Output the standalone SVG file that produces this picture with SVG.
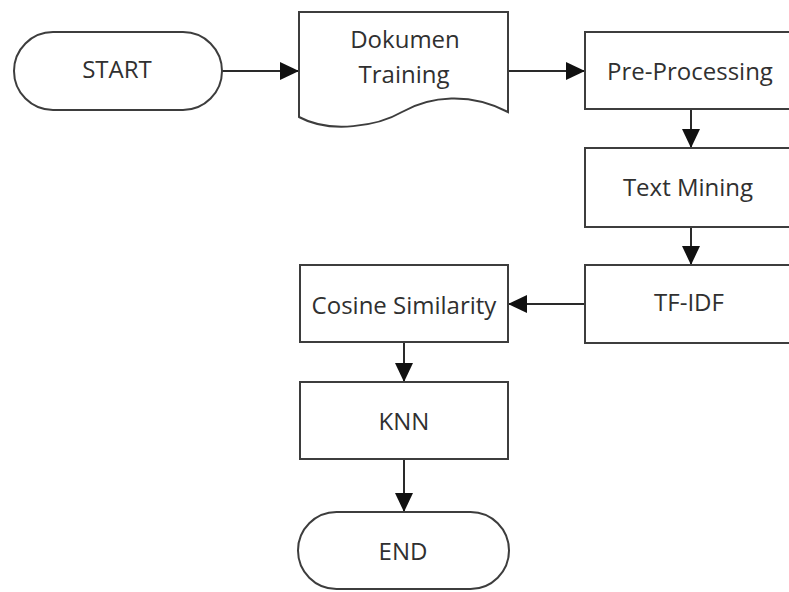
<svg xmlns="http://www.w3.org/2000/svg" width="789" height="592" viewBox="0 0 789 592">
  <style>
    .shape { fill: #ffffff; stroke: #3d3d3d; stroke-width: 2; }
    .label { font-family: "Open Sans", "Liberation Sans", sans-serif; font-size: 24px; fill: #303030; text-anchor: middle; }
    .conn { stroke: #2a2a2a; stroke-width: 2; fill: none; marker-end: url(#arrow); }
  </style>
  <defs>
    <marker id="arrow" markerUnits="userSpaceOnUse" markerWidth="20" markerHeight="18" refX="19" refY="9" orient="auto">
      <path d="M0,0 L19,9 L0,18 Z" fill="#111111"/>
    </marker>
  </defs>
  <rect width="789" height="592" fill="#ffffff"/>

  <g id="connectors">
    <line class="conn" x1="222" y1="71" x2="299" y2="71"/>
    <line class="conn" x1="508" y1="71" x2="585" y2="71"/>
    <line class="conn" x1="691" y1="109" x2="691" y2="148"/>
    <line class="conn" x1="691" y1="227" x2="691" y2="265"/>
    <line class="conn" x1="585" y1="304" x2="508" y2="304"/>
    <line class="conn" x1="404" y1="342" x2="404" y2="382"/>
    <line class="conn" x1="404" y1="459" x2="404" y2="512"/>
  </g>

  <g id="start">
    <rect class="shape" x="14" y="32" width="208" height="78" rx="39" ry="39"/>
    <text class="label" x="117" y="78">START</text>
  </g>

  <g id="dokumen-training">
    <path class="shape" d="M299,12 H508 V112 C470,92 430,96 402,112 C378,126 330,134 299,117 Z"/>
    <text class="label" x="405" y="48">Dokumen</text>
    <text class="label" x="404" y="83">Training</text>
  </g>

  <g id="pre-processing">
    <rect class="shape" x="585" y="32" width="220" height="77"/>
    <text class="label" x="690" y="80">Pre-Processing</text>
  </g>

  <g id="text-mining">
    <rect class="shape" x="585" y="148" width="220" height="79"/>
    <text class="label" x="688" y="196">Text Mining</text>
  </g>

  <g id="tf-idf">
    <rect class="shape" x="585" y="265" width="220" height="78"/>
    <text class="label" x="689" y="311">TF-IDF</text>
  </g>

  <g id="cosine-similarity">
    <rect class="shape" x="300" y="265" width="208" height="77"/>
    <text class="label" x="404" y="314">Cosine Similarity</text>
  </g>

  <g id="knn">
    <rect class="shape" x="300" y="382" width="208" height="77"/>
    <text class="label" x="404" y="430">KNN</text>
  </g>

  <g id="end">
    <rect class="shape" x="298" y="512" width="211" height="77" rx="38.5" ry="38.5"/>
    <text class="label" x="403" y="560">END</text>
  </g>
</svg>
